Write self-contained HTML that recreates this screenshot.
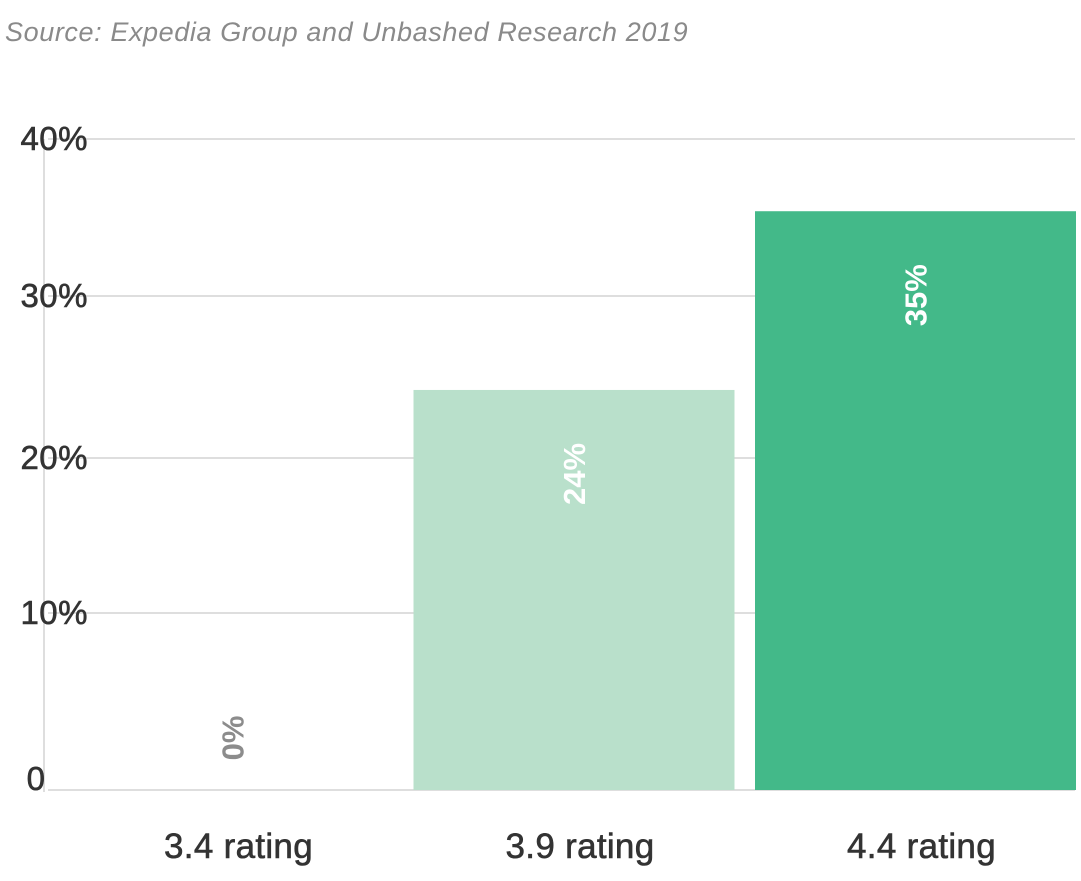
<!DOCTYPE html>
<html><head><meta charset="utf-8"><style>
body{margin:0;background:#fff;width:1081px;height:876px;overflow:hidden;font-family:"Liberation Sans",sans-serif}
</style></head><body>
<svg width="1081" height="876">
<text x="5" y="41" font-size="27" font-style="italic" letter-spacing="0.6" fill="#8a8a8a">Source: Expedia Group and Unbashed Research 2019</text>
<g id="grid"></g><g id="bars"></g><g id="labels"></g>
</svg>
<script>
const categories=["3.4 rating","3.9 rating","4.4 rating"];
const values=[0,24.2,35.4];
const valueLabels=["0%","24%","35%"];
const tickValues=[0,10,20,30,40];
const tickLabels=["0","10%","20%","30%","40%"];
const colors=["#b9e0cb","#b9e0cb","#43b989"];
const ns="http://www.w3.org/2000/svg";
const tickPix=[790,613,458,296,139];
function y(v){for(let i=0;i<tickValues.length-1;i++){if(v<=tickValues[i+1]){const t=(v-tickValues[i])/(tickValues[i+1]-tickValues[i]);return tickPix[i]+t*(tickPix[i+1]-tickPix[i]);}}return tickPix[tickPix.length-1];}
function x(i){return 72+i*341.5;}
const bw=321;
function mk(tag,at,parent){const e=document.createElementNS(ns,tag);for(const k in at)e.setAttribute(k,at[k]);document.getElementById(parent).appendChild(e);return e;}
const ax=mk("line",{x1:44,x2:44,y1:139,y2:792,stroke:"#dedede","stroke-width":2},"grid");


tickValues.forEach((v,i)=>{
 const l=mk("line",{x1:48,x2:1075,y1:y(v),y2:y(v),stroke:"#dedede","stroke-width":2},"grid");
 
 
 const t=mk("text",{x:i==0?36:88,y:y(v)-(i==0?0:-11),"font-size":33,"letter-spacing":0.5,fill:"#333",stroke:"#333","stroke-width":0.6,"text-anchor":i==0?"middle":"end"},"grid");
 t.textContent=tickLabels[i];
 
 
});
values.forEach((v,i)=>{
 const top=y(v);
 if(v>0){const r=mk("rect",{x:x(i),y:top,width:bw,height:790-top,fill:colors[i]},"bars");
 
 }
 const cx=x(i)+bw/2, ly=v>0?top+84:738;
 const t=mk("text",{x:0,y:0,"font-size":31,"font-weight":"bold",fill:v>0?"#fff":"#8c8c8c","text-anchor":"middle",transform:`translate(${cx+11},${ly}) rotate(-90)`},"labels");
 t.textContent=valueLabels[i];
 
 
 const c=mk("text",{x:cx+6,y:858,"font-size":35,"letter-spacing":0.3,fill:"#333",stroke:"#333","stroke-width":0.6,"text-anchor":"middle"},"labels");
 c.textContent=categories[i];
 
 
});
</script>
</body></html>
